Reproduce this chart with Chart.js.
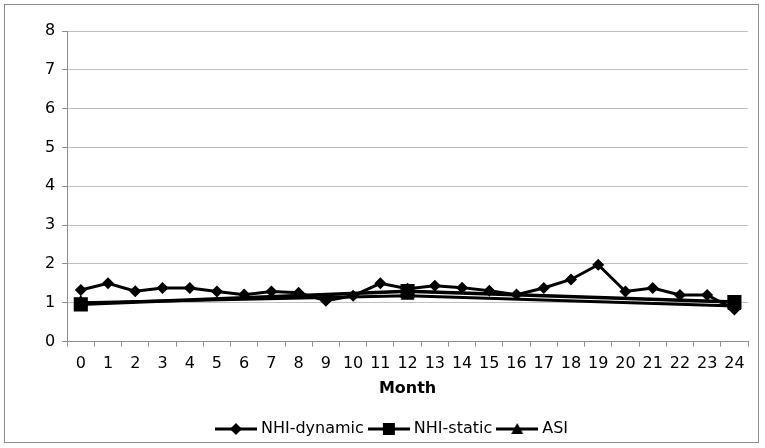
<!DOCTYPE html>
<html>
<head>
<meta charset="utf-8">
<script src="https://cdn.jsdelivr.net/npm/chart.js@4/dist/chart.umd.min.js"></script>
<style>
    html, body { margin: 0; padding: 0; background: white; }
    #frame {
        position: absolute; left: 4px; top: 4px;
        width: 755px; height: 439px;
        border: 1px solid #8c8c8c; box-sizing: border-box;
    }
    #chart { display: block; }
</style>
</head>
<body>
<div id="frame"><canvas id="chart" width="753" height="437"></canvas></div>
<script>
Chart.defaults.font.family = "'DejaVu Sans', Verdana, sans-serif";
Chart.defaults.font.size = 16;
Chart.defaults.color = 'black';

const months = ['0','1','2','3','4','5','6','7','8','9','10','11','12',
                '13','14','15','16','17','18','19','20','21','22','23','24'];

const nhiDynamic = [1.33, 1.5, 1.3, 1.38, 1.38, 1.29, 1.21, 1.29, 1.26, 1.05, 1.18, 1.5, 1.36,
                    1.44, 1.39, 1.31, 1.21, 1.38, 1.6, 1.98, 1.29, 1.38, 1.2, 1.2, 0.83];

// static and ASI are only measured at 0, 12 and 24 months
const nhiStatic = [0.96, null, null, null, null, null, null, null, null, null, null, null, 1.3,
                   null, null, null, null, null, null, null, null, null, null, null, 1.02];

const asi = [1.0, null, null, null, null, null, null, null, null, null, null, null, 1.18,
             null, null, null, null, null, null, null, null, null, null, null, 0.92];

/// Legend swatch: short line with the series marker in the middle
function swatch(style) {
    const c = document.createElement('canvas');
    c.width = 42; c.height = 14;
    const ctx = c.getContext('2d');
    ctx.strokeStyle = 'black';
    ctx.fillStyle = 'black';
    ctx.lineWidth = 3;
    ctx.beginPath(); ctx.moveTo(0, 7); ctx.lineTo(42, 7); ctx.stroke();
    ctx.beginPath();
    if (style === 'diamond') {
        ctx.moveTo(21, 1); ctx.lineTo(27, 7); ctx.lineTo(21, 13); ctx.lineTo(15, 7);
    } else if (style === 'square') {
        ctx.rect(15, 1, 12, 12);
    } else {
        ctx.moveTo(21, 1); ctx.lineTo(27, 12); ctx.lineTo(15, 12);
    }
    ctx.closePath(); ctx.fill();
    return c;
}
const swatches = [swatch('diamond'), swatch('square'), swatch('triangle')];

const chart = new Chart("chart", {
    type: "line",
    data: {
        labels: months,
        datasets: [
            {
                label: "NHI-dynamic",
                data: nhiDynamic,
                borderColor: "black",
                backgroundColor: "black",
                borderWidth: 3,
                pointStyle: "rectRot",
                pointRadius: 6,
                pointBorderWidth: 0,
                order: 0
            },
            {
                label: "NHI-static",
                data: nhiStatic,
                borderColor: "black",
                backgroundColor: "black",
                borderWidth: 3.5,
                pointStyle: "rect",
                pointRadius: 10,
                pointBorderWidth: 0,
                order: 2
            },
            {
                label: "ASI",
                data: asi,
                borderColor: "black",
                backgroundColor: "black",
                borderWidth: 3,
                pointStyle: "triangle",
                pointRadius: 8,
                pointBorderWidth: 0,
                order: 1
            }
        ]
    },
    options: {
        responsive: false,
        animation: false,
        spanGaps: true,
        layout: { padding: { top: 26, right: 9, left: 33, bottom: -5 } },
        plugins: {
            tooltip: { enabled: false },
            legend: {
                position: 'bottom',
                labels: {
                    usePointStyle: true,
                    pointStyleWidth: 34,
                    padding: 8,
                    generateLabels: (chart) => chart.data.datasets.map((ds, i) => ({
                        text: ds.label,
                        pointStyle: swatches[i],
                        fillStyle: 'black',
                        strokeStyle: 'black',
                        lineWidth: 0,
                        hidden: false,
                        datasetIndex: i
                    }))
                }
            }
        },
        scales: {
            x: {
                offset: true,
                grid: {
                    offset: true,
                    drawOnChartArea: false,
                    color: '#8c8c8c',
                    tickLength: 5
                },
                border: { color: '#8c8c8c' },
                ticks: { padding: 8, maxRotation: 0, autoSkip: false },
                title: {
                    display: true,
                    text: 'Month',
                    font: { weight: 'bold' },
                    padding: { top: -3, bottom: 15 }
                }
            },
            y: {
                min: 0,
                max: 8,
                ticks: { stepSize: 1, padding: 7 },
                grid: { color: '#c0c0c0', tickLength: 5, tickColor: '#8c8c8c' },
                border: { color: '#8c8c8c' }
            }
        }
    }
});
</script>
</body>
</html>
